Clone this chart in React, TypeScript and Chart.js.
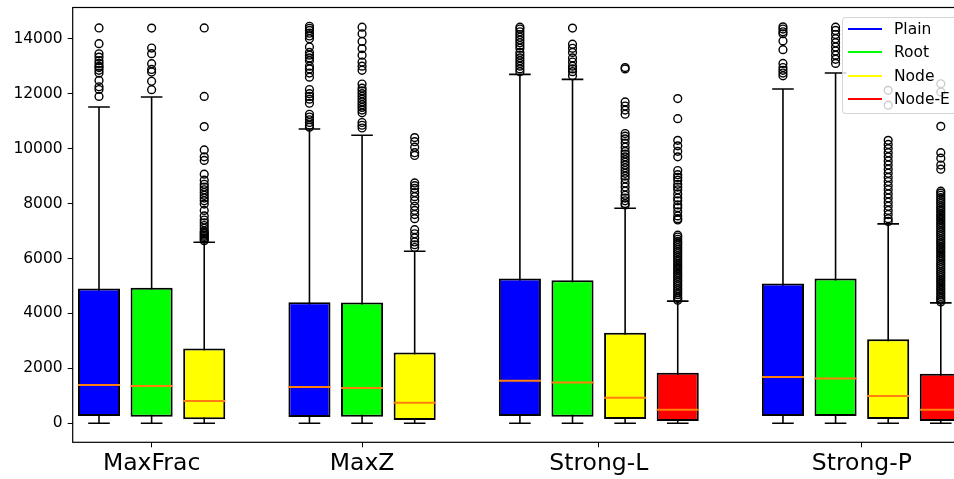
import React, { useEffect, useRef } from 'react';
import { Chart, registerables } from 'chart.js';

Chart.register(...registerables);

// ---- Data ----
const groups = ['MaxFrac', 'MaxZ', 'Strong-L', 'Strong-P'];
const methods = ['Plain', 'Root', 'Node', 'Node-E'];
const methodColors = ['#0000ff', '#00ff00', '#ffff00', '#ff0000'];

// one entry per box
const boxGroup = [0, 0, 0, 1, 1, 1, 2, 2, 2, 2, 3, 3, 3, 3];
const boxMethod = [0, 1, 2, 0, 1, 2, 0, 1, 2, 3, 0, 1, 2, 3];
const whisLo = [5, 5, 5, 5, 5, 5, 5, 5, 5, 5, 5, 5, 5, 5];
const q1 = [265, 241, 145, 229, 241, 120, 265, 241, 156, 84, 265, 265, 156, 84];
const medians = [1393, 1356, 811, 1320, 1284, 750, 1549, 1490, 933, 495, 1684, 1636, 993, 495];
const q3 = [4909, 4932, 2727, 4411, 4400, 2582, 5273, 5212, 3295, 1840, 5091, 5273, 3065, 1804];
const whisHi = [11513, 11877, 6593, 10713, 10484, 6265, 12702, 12520, 7829, 4447, 12167, 12750, 7258, 4386];

const outliers: number[][] = [
  // MaxFrac Plain
  [14390, 13820, 13450, 13330, 13200, 13100, 13000, 12950, 12850, 12750, 12480, 12250, 12150, 11900],
  // MaxFrac Root
  [14385, 13660, 13455, 13090, 12880, 12785, 12450, 12145],
  // MaxFrac Node
  [14390, 11900, 10800, 9950, 9700, 9570, 9070, 8850, 8700, 8600, 8500, 8400, 8300, 8200, 8100, 7980, 7750,
    7550, 7400, 7300, 7200, 7100, 7000, 6950, 6900, 6850, 6800, 6750, 6700, 6650],
  // MaxZ Plain
  [14450, 14380, 14300, 14200, 14100, 14000, 13700, 13500, 13400, 13300, 13200, 13000, 12900, 12750, 12600,
    12150, 12000, 11900, 11800, 11650, 11250, 11150, 11050, 10950, 10850, 10780],
  // MaxZ Root
  [14420, 14180, 13900, 13640, 13400, 13150, 13000, 12850, 12350, 12200, 12100, 12000, 11900, 11800, 11700,
    11600, 11500, 11400, 11300, 10950, 10850, 10750],
  // MaxZ Node
  [10400, 10250, 10050, 9850, 9750, 8750, 8650, 8550, 8400, 8250, 8100, 7900, 7750, 7600, 7450, 7050, 6900,
    6750, 6600, 6500, 6400],
  // Strong-L Plain
  [14420, 14350, 14250, 14150, 14050, 13950, 13850, 13750, 13650, 13500, 13400, 13300, 13200, 13100, 13000,
    12900, 12800],
  // Strong-L Root
  [14385, 13800, 13650, 13500, 13300, 13150, 13000, 12900, 12800, 12650],
  // Strong-L Node
  [12950, 12900, 11700, 11550, 11400, 11250, 10550, 10450, 10350, 10200, 10050, 9900, 9800, 9700, 9600, 9500,
    9400, 9300, 9200, 9100, 9000, 8900, 8750, 8600, 8450, 8300, 8200, 8100, 8000, 7950],
  // Strong-L Node-E
  [11820, 11090, 10300, 10100, 9900, 9700, 9200, 9050, 8950, 8850, 8700, 8600, 8500, 8350, 8200, 8100, 7950,
    7850, 7700, 7550, 7450, 7400, 6850, 6780, 6700, 6620, 6550, 6480, 6400, 6330, 6250, 6180, 6100, 6030, 5950,
    5880, 5800, 5730, 5650, 5580, 5500, 5430, 5350, 5280, 5200, 5130, 5050, 4980, 4900, 4830, 4750, 4680, 4600,
    4540, 4480],
  // Strong-P Plain
  [14430, 14350, 14250, 14180, 13920, 13600, 13100, 12950, 12850, 12750, 12650],
  // Strong-P Root
  [14420, 14300, 14150, 14000, 13850, 13700, 13550, 13400, 13250, 13100],
  // Strong-P Node
  [12120, 11580, 10300, 10150, 10000, 9850, 9700, 9550, 9400, 9250, 9100, 8950, 8800, 8650, 8500, 8350, 8200,
    8050, 7900, 7750, 7600, 7450, 7350],
  // Strong-P Node-E
  [12360, 12060, 10810, 9850, 9650, 9400, 9250, 8450, 8380, 8300, 8220, 8150, 8070, 8000, 7920, 7850, 7770,
    7700, 7620, 7550, 7470, 7400, 7320, 7250, 7170, 7100, 7020, 6950, 6870, 6800, 6720, 6650, 6570, 6500, 6420,
    6350, 6270, 6200, 6120, 6050, 5970, 5900, 5820, 5750, 5670, 5600, 5520, 5450, 5370, 5300, 5220, 5150, 5070,
    5000, 4920, 4850, 4770, 4700, 4620, 4550, 4480, 4420],
];

const yTicks = [0, 2000, 4000, 6000, 8000, 10000, 12000, 14000];

const FONT = "'DejaVu Sans', sans-serif";

export default function App() {
  const canvasRef = useRef<HTMLCanvasElement | null>(null);

  useEffect(() => {
    if (!canvasRef.current) return;

    // box positions: one slot per box, with one empty slot between groups
    const positions: number[] = [];
    let p = 0;
    boxGroup.forEach((g, i) => {
      if (i > 0 && g !== boxGroup[i - 1]) p += 1;
      positions.push(p);
      p += 1;
    });
    const groupCenters = groups.map((_, gi) => {
      const ps = positions.filter((_, i) => boxGroup[i] === gi);
      return ps.reduce((a, b) => a + b, 0) / ps.length;
    });

    const whiskerData: any[] = [];
    positions.forEach((pos, i) => {
      whiskerData.push({ x: pos, y: whisLo[i] }, { x: pos, y: whisHi[i] }, { x: pos, y: null });
    });
    const capData = positions.flatMap((pos, i) => [
      { x: pos, y: whisLo[i] },
      { x: pos, y: whisHi[i] },
    ]);
    const medianData = positions.map((pos, i) => ({ x: pos, y: medians[i] }));
    const boxData = positions.map((pos, i) => ({ x: pos, y: [q1[i], q3[i]] }));
    const flierData = positions.flatMap((pos, i) => outliers[i].map((v) => ({ x: pos, y: v })));

    const framePlugin = {
      id: 'frame',
      afterDatasetsDraw(chart: any) {
        const { ctx, chartArea } = chart;
        ctx.save();
        ctx.strokeStyle = '#000';
        ctx.lineWidth = 1.2;
        ctx.strokeRect(chartArea.left, chartArea.top, chartArea.right - chartArea.left, chartArea.bottom - chartArea.top);
        ctx.restore();
      },
    };

    const chart = new Chart(canvasRef.current, {
      type: 'bar',
      data: {
        datasets: [
          {
            type: 'line',
            data: whiskerData,
            borderColor: '#000',
            borderWidth: 1.6,
            pointRadius: 0,
            spanGaps: false,
            order: 4,
          } as any,
          {
            type: 'bar',
            data: boxData,
            backgroundColor: boxMethod.map((m) => methodColors[m]),
            borderColor: '#000',
            borderWidth: 2,
            borderSkipped: false,
            barPercentage: 0.8,
            categoryPercentage: 1,
            grouped: false,
            order: 3,
          } as any,
          {
            type: 'scatter',
            data: capData,
            pointStyle: 'line',
            pointRadius: 10.8,
            pointBorderWidth: 1.6,
            pointBorderColor: '#000',
            borderColor: '#000',
            order: 2,
          } as any,
          {
            type: 'scatter',
            data: medianData,
            pointStyle: 'line',
            pointRadius: 21,
            pointBorderWidth: 2,
            pointBorderColor: '#ff7f0e',
            borderColor: '#ff7f0e',
            order: 1,
          } as any,
          {
            type: 'scatter',
            data: flierData,
            pointStyle: 'circle',
            pointRadius: 3.9,
            pointBorderWidth: 1.4,
            pointBorderColor: '#000',
            pointBackgroundColor: 'rgba(0,0,0,0)',
            borderColor: '#000',
            order: 0,
          } as any,
        ],
      },
      options: {
        responsive: false,
        animation: false,
        devicePixelRatio: 1,
        events: [],
        layout: { autoPadding: false, padding: { top: 7.5, right: 22.9, bottom: 0, left: 0 } },
        plugins: {
          legend: { display: false },
          tooltip: { enabled: false },
        },
        scales: {
          x: {
            type: 'linear',
            min: -0.5,
            max: 16.5,
            offset: false,
            grid: {
              display: true,
              drawOnChartArea: false,
              drawTicks: true,
              tickLength: 5,
              color: '#000',
              lineWidth: 1,
              offset: false,
            },
            border: { display: false },
            ticks: {
              autoSkip: false,
              maxRotation: 0,
              color: '#000',
              padding: 2,
              font: { family: FONT, size: 23.5 },
              callback: (_v: any, index: number) => groups[index],
            },
            afterBuildTicks: (scale: any) => {
              scale.ticks = groupCenters.map((v) => ({ value: v }));
            },
            afterFit: (scale: any) => {
              scale.height = 36.7;
              scale.paddingLeft = 0;
              scale.paddingRight = 0;
            },
          },
          y: {
            type: 'linear',
            min: -690,
            max: 15135,
            grid: {
              display: true,
              drawOnChartArea: false,
              drawTicks: true,
              tickLength: 5,
              color: '#000',
              lineWidth: 1,
            },
            border: { display: false },
            ticks: {
              color: '#000',
              padding: 5,
              font: { family: FONT, size: 15.5 },
              callback: (v: any) => String(v),
            },
            afterBuildTicks: (scale: any) => {
              scale.ticks = yTicks.map((v) => ({ value: v }));
            },
            afterFit: (scale: any) => {
              scale.width = 72.7;
              scale.paddingTop = 0;
              scale.paddingBottom = 0;
            },
          },
        },
      } as any,
      plugins: [framePlugin],
    });

    return () => chart.destroy();
  }, []);

  const legendRows = [12.8, 35.8, 59.5, 82.8];

  return (
    <div
      style={{
        position: 'fixed',
        left: 0,
        top: 0,
        width: 954,
        height: 479,
        overflow: 'hidden',
        background: '#fff',
      }}
    >
      <canvas
        ref={canvasRef}
        width={990}
        height={479}
        style={{ position: 'absolute', left: 0, top: 0, width: 990, height: 479, display: 'block' }}
      />
      <div
        style={{
          position: 'absolute',
          left: 842,
          top: 16.5,
          width: 130,
          height: 97.5,
          boxSizing: 'border-box',
          background: 'rgba(255,255,255,0.8)',
          border: '1px solid rgba(204,204,204,0.8)',
          borderRadius: 4,
          fontFamily: FONT,
          fontSize: 15.5,
          color: '#000',
        }}
      >
        {methods.map((m, i) => (
          <div key={m}>
            <div
              style={{
                position: 'absolute',
                left: 4.7,
                top: legendRows[i] - 2,
                width: 34.6,
                height: 2,
                background: methodColors[i],
              }}
            />
            <div
              style={{
                position: 'absolute',
                left: 51,
                top: legendRows[i] - 11,
                lineHeight: '20px',
                whiteSpace: 'nowrap',
              }}
            >
              {m}
            </div>
          </div>
        ))}
      </div>
    </div>
  );
}
